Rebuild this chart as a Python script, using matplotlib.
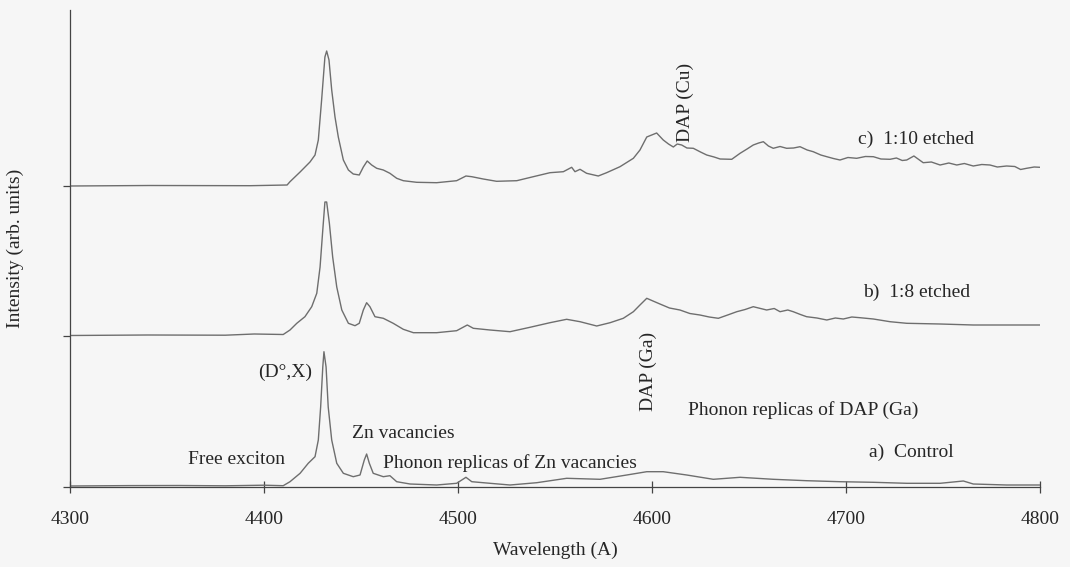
import matplotlib
matplotlib.use("Agg")
import matplotlib.pyplot as plt

# Photoluminescence spectra of ZnO samples (wavelength in Angstrom, intensity in arb. units)
wl_control = [4300, 4330, 4356.7, 4380, 4400, 4409.9, 4413.4, 4418.6, 4422.8, 4426.3,
              4428.0, 4429.2, 4430.3, 4430.9, 4432.0, 4433.1, 4434.9, 4437.5, 4440.9,
              4446.0, 4449.5, 4451.7, 4452.9, 4454.3, 4456.3, 4461.5, 4464.9, 4468.4,
              4475.3, 4489.0, 4499.3, 4504.1, 4507.1, 4516.5, 4526.8, 4540.6, 4556.0,
              4573.2, 4587.0, 4597.3, 4605.8, 4617.9, 4631.6, 4645.4, 4662.5, 4679.7,
              4696.9, 4714.1, 4731.3, 4748.5, 4760.5, 4765.6, 4782.8, 4800]
int_control = [1.0, 1.4, 1.5, 1.2, 1.8, 1.3, 5.3, 13.7, 23.7, 30.3,
               47, 80, 120, 135.3, 120, 80, 47, 23.7, 13.7,
               10.3, 12, 27, 33, 23.7, 13.7, 10.3, 11.3, 5.3,
               3, 2, 3.7, 9.7, 5.3, 3.7, 2, 4.3, 8.7,
               7.7, 12, 15.3, 15.3, 12, 7.7, 9.7, 7.7, 6.3,
               5.3, 4.7, 3.7, 3.7, 6, 3, 2, 2]

wl_etch8 = [4300, 4340, 4380, 4395, 4409.9, 4413.4, 4416.9, 4421.1, 4424.6, 4427.2,
            4428.9, 4430.3, 4431.4, 4432.3, 4433.7, 4435.4, 4437.5, 4440.1, 4443.5,
            4446.9, 4449.1, 4451.2, 4452.9, 4454.6, 4457.2, 4461.5, 4466.6, 4471.8,
            4477.0, 4489.0, 4499.3, 4504.8, 4507.9, 4516.5, 4526.8, 4537.1, 4547.4,
            4556.0, 4562.9, 4571.5, 4578.4, 4585.2, 4590.4, 4593.8, 4597.3, 4600.5,
            4604.1, 4609.0, 4614.4, 4619.5, 4624.7, 4629.5, 4634.2, 4639.0, 4643.7,
            4648.0, 4652.2, 4659.1, 4663.0, 4666.0, 4670.0, 4672.8, 4676.5, 4679.7,
            4685.0, 4690.1, 4694.5, 4698.6, 4703.0, 4707.2, 4714.1, 4722.7, 4731.3,
            4748.5, 4765.6, 4782.8, 4800]
int_etch8 = [0.5, 1.0, 0.8, 2.0, 1.5, 6, 12.7, 19.3, 29.3, 42.7,
             69, 106, 134, 134, 112.7, 79, 49, 26, 12.7,
             10.3, 12.7, 26, 33.3, 29.3, 19.3, 17.7, 12.7, 6.7,
             3.3, 3.3, 5.3, 11, 7.7, 6, 4.3, 8.7, 13.3,
             16.7, 14.3, 10, 13.3, 17.7, 24.3, 31, 37.7, 35,
             32, 28, 26, 22.5, 21, 19, 17.7, 21, 24.3,
             26.5, 29.3, 26, 27.5, 24.3, 26, 24.3, 21.5, 19.3,
             18, 16, 18, 17, 19, 18.3, 17, 14.3, 12.7,
             12, 11, 11, 11]

wl_etch10 = [4300, 4341.2, 4392.8, 4411.9, 4413.4, 4418.6, 4423.7, 4426.3, 4428.0,
             4429.7, 4431.4, 4432.3, 4433.5, 4434.9, 4436.6, 4438.3, 4440.9, 4443.5,
             4446.0, 4449.1, 4451.2, 4453.2, 4455.5, 4458.1, 4461.5, 4464.9, 4468.4,
             4471.8, 4478.7, 4489.0, 4499.3, 4504.1, 4507.1, 4513.0, 4519.9, 4530.3,
             4538.8, 4547.4, 4554.3, 4558.6, 4560.3, 4562.9, 4566.3, 4572.3, 4576.6,
             4583.5, 4590.4, 4593.8, 4597.3, 4602.4, 4605.8, 4608.5, 4611.0, 4613.0,
             4615.3, 4618.0, 4621.3, 4625.0, 4628.2, 4632.0, 4635.1, 4641.1, 4645.4,
             4649.0, 4652.2, 4655.0, 4657.4, 4660.0, 4662.5, 4666.0, 4669.4, 4673.0,
             4676.3, 4680.0, 4683.1, 4687.0, 4690.1, 4693.5, 4696.9, 4701.0, 4705.5,
             4710.0, 4714.1, 4718.0, 4722.7, 4726.0, 4729.0, 4731.3, 4735.0, 4739.8,
             4744.0, 4748.5, 4753.0, 4757.1, 4761.0, 4765.6, 4770.0, 4774.2, 4778.0,
             4782.8, 4787.0, 4790.0, 4793.1, 4797.0, 4800]
int_etch10 = [0.0, 0.5, 0.3, 1.0, 4.3, 14, 24, 31, 46,
              86, 129, 135, 126, 96, 69, 49, 26, 16,
              12, 11, 19, 25, 21, 17.7, 16, 12.7, 7.7,
              5.3, 3.7, 3.3, 5.3, 10, 9.3, 7, 4.7, 5.3,
              9.3, 13.3, 14.3, 18.7, 14.3, 16.7, 12.7, 10, 13.3,
              19.3, 27.7, 36, 49, 53, 46, 42, 39, 42,
              41, 38, 37.7, 34, 31, 29, 27, 26.7, 32.7,
              37, 41, 43, 44.3, 40, 37.7, 39.5, 37.7, 38,
              39.3, 36, 34.3, 31, 29.3, 27.5, 26, 28.5, 27.7,
              29.5, 29.3, 27, 26.7, 28, 25.5, 26, 30, 23.3,
              24, 21, 23, 21, 22.5, 20, 21.5, 21, 19,
              20, 19.5, 16.5, 17.7, 19, 18.7]

sample_labels = ["a)  Control", "b)  1:8 etched", "c)  1:10 etched"]

line_color = "#6e6e6e"
text_color = "#262626"
serif = ["Liberation Serif", "DejaVu Serif"]
plt.rcParams["font.family"] = serif

fig = plt.figure(figsize=(10.7, 5.67), dpi=100, facecolor="#f6f6f6")
ax = fig.add_axes([70 / 1070, 80 / 567, 970 / 1070, 477 / 567])
ax.set_facecolor("#f6f6f6")

# stack the spectra vertically
offsets = [0, 151, 301]
spectra = [(wl_control, int_control), (wl_etch8, int_etch8), (wl_etch10, int_etch10)]
for (wl, inten), off in zip(spectra, offsets):
    ax.plot(wl, [v + off for v in inten], color=line_color, lw=1.0)

ax.set_xlim(4300, 4800)
ax.set_ylim(0, 477)
ax.set_xticks([4300, 4400, 4500, 4600, 4700, 4800])
ax.set_yticks(offsets)
ax.set_yticklabels([])
ax.tick_params(axis="x", direction="inout", length=8, width=0.9, colors="#444444",
               labelsize=14, labelcolor=text_color, pad=13)
ax.tick_params(axis="y", direction="out", length=5, width=0.9, colors="#444444")
for side in ("top", "right"):
    ax.spines[side].set_visible(False)
for side in ("left", "bottom"):
    ax.spines[side].set_color("#444444")
    ax.spines[side].set_linewidth(0.9)

ax.set_xlabel("Wavelength (A)", fontsize=14, color=text_color)
ax.xaxis.set_label_coords(0.5, -0.115)
ax.set_ylabel("Intensity (arb. units)", fontsize=14, color=text_color)
ax.yaxis.set_label_coords(-0.047, 0.5)

fs = 14
# sample labels
ax.text(4706.2, 348, sample_labels[2], fontsize=fs, color=text_color, ha="left", va="center")
ax.text(4708.8, 195, sample_labels[1], fontsize=fs, color=text_color, ha="left", va="center")
ax.text(4711.9, 35, sample_labels[0], fontsize=fs, color=text_color, ha="left", va="center")

# feature labels
ax.text(4424.7, 115, "(D°,X)", fontsize=fs, color=text_color, ha="right", va="center")
ax.text(4360.8, 27, "Free exciton", fontsize=fs, color=text_color, ha="left", va="center")
ax.text(4445.4, 54, "Zn vacancies", fontsize=fs, color=text_color, ha="left", va="center")
ax.text(4461.3, 24, "Phonon replicas of Zn vacancies", fontsize=fs, color=text_color,
        ha="left", va="center")
ax.text(4618.6, 77, "Phonon replicas of DAP (Ga)", fontsize=fs, color=text_color,
        ha="left", va="center")
ax.text(4597.9, 76, "DAP (Ga)", fontsize=fs, color=text_color, rotation=90,
        ha="center", va="bottom")
ax.text(4617.0, 345, "DAP (Cu)", fontsize=fs, color=text_color, rotation=90,
        ha="center", va="bottom")

fig.savefig("out.png", dpi=100, facecolor=fig.get_facecolor())
